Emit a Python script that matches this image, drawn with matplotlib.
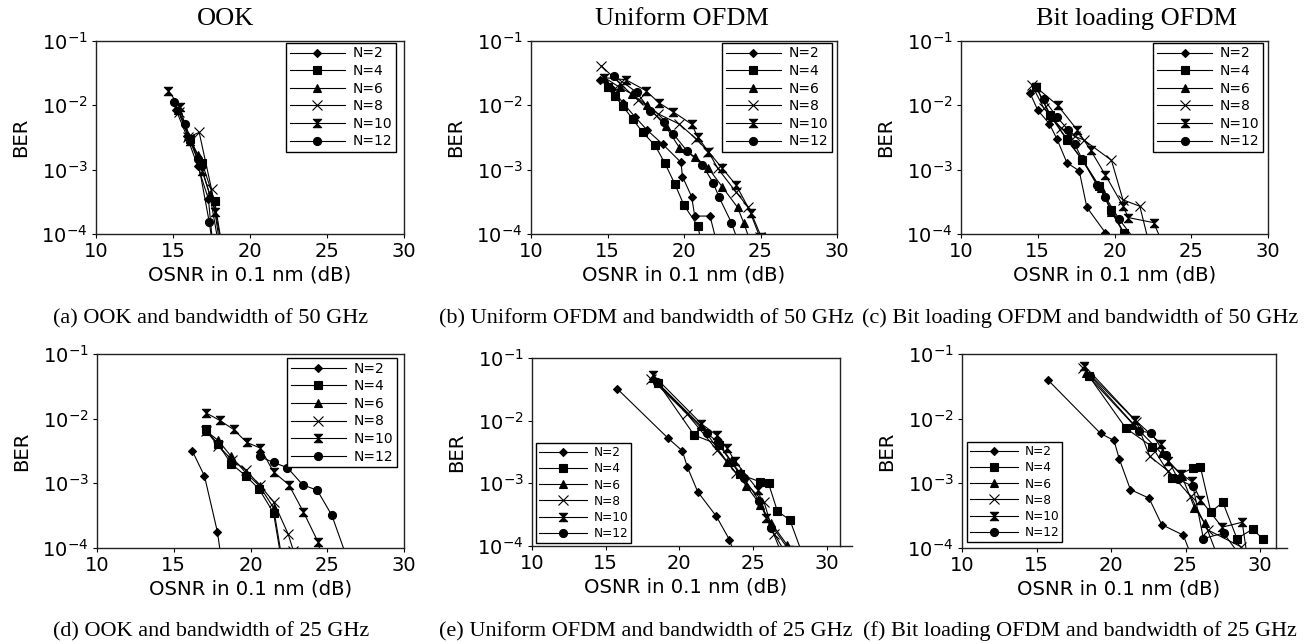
import matplotlib
matplotlib.use("Agg")
import matplotlib.pyplot as plt
from matplotlib.path import Path

# ---------------- data ----------------
LABELS = ["N=2", "N=4", "N=6", "N=8", "N=10", "N=12"]
TITLES = ["OOK", "Uniform OFDM", "Bit loading OFDM"]
CAPTIONS = ["(a) OOK and bandwidth of 50 GHz",
            "(b) Uniform OFDM and bandwidth of 50 GHz",
            "(c) Bit loading OFDM and bandwidth of 50 GHz",
            "(d) OOK and bandwidth of 25 GHz",
            "(e) Uniform OFDM and bandwidth of 25 GHz",
            "(f) Bit loading OFDM and bandwidth of 25 GHz"]
XTICKS = [10, 15, 20, 25, 30]

# (a) OOK, 50 GHz
A_X = [[15.2, 15.9, 16.6, 17.3, 17.6],
       [16.1, 16.9, 17.7, 18.2],
       [15.3, 16.0, 16.6, 17.4, 18.0],
       [15.4, 16.0, 16.7, 17.5, 18.0],
       [14.7, 15.45, 16.1, 16.9, 17.75, 18.2],
       [15.05, 15.8, 16.6, 17.35, 17.6]]
A_Y = [[8.5e-3, 3.3e-3, 1.15e-3, 3.5e-4, 6e-5],
       [3.0e-3, 1.25e-3, 3.3e-4, 6e-5],
       [8.5e-3, 3.3e-3, 1.7e-3, 4e-4, 6e-5],
       [8.0e-3, 3.2e-3, 3.8e-3, 5e-4, 8e-5],
       [1.7e-2, 9.3e-3, 2.8e-3, 9.5e-4, 2.2e-4, 6e-5],
       [1.12e-2, 5.1e-3, 1.45e-3, 1.55e-4, 6e-5]]

# (b) Uniform OFDM, 50 GHz
B_X = [[14.5, 15.3, 16.0, 16.8, 17.6, 18.6, 19.8, 19.9, 20.5, 20.7, 21.7, 22.1],
       [15.0, 15.5, 16.0, 16.65, 17.3, 18.1, 18.75, 19.4, 20.0, 20.9, 21.1],
       [14.8, 15.8, 16.6, 17.6, 18.8, 19.7, 20.7, 21.6, 22.5, 23.5, 23.9, 24.3],
       [14.6, 15.8, 17.0, 18.3, 19.7, 20.8, 21.6, 22.2, 23.4, 24.2, 24.95],
       [14.75, 16.2, 17.5, 18.35, 19.3, 20.5, 20.9, 21.6, 22.5, 23.4, 24.4, 25.05],
       [15.4, 16.9, 17.8, 18.7, 19.3, 20.2, 21.2, 21.9, 22.3, 23.1, 23.5]]
B_Y = [[2.5e-2, 1.8e-2, 1.1e-2, 6.6e-3, 4.1e-3, 2.5e-3, 1.3e-3, 7.8e-4, 3.8e-4, 1.9e-4, 1.9e-4, 8e-5],
       [1.9e-2, 1.38e-2, 9.7e-3, 6.1e-3, 3.8e-3, 2.4e-3, 1.26e-3, 6e-4, 2.8e-4, 1.33e-4, 8e-5],
       [2.7e-2, 1.9e-2, 1.5e-2, 1e-2, 4.7e-3, 2.2e-3, 1.6e-3, 1.05e-3, 5.4e-4, 2.6e-4, 1.5e-4, 8e-5],
       [4.1e-2, 2.2e-2, 1.2e-2, 7.4e-3, 5.1e-3, 3e-3, 1.9e-3, 1.05e-3, 4.5e-4, 2.6e-4, 9e-5],
       [2.7e-2, 2.5e-2, 1.7e-2, 1.1e-2, 7.9e-3, 5.1e-3, 3.2e-3, 1.9e-3, 1.05e-3, 5.8e-4, 2.1e-4, 9e-5],
       [2.9e-2, 1.6e-2, 8.3e-3, 5.5e-3, 3.6e-3, 1.95e-3, 1.18e-3, 6.3e-4, 3.7e-4, 1.5e-4, 8e-5]]

# (c) Bit loading OFDM, 50 GHz
C_X = [[14.5, 15.0, 15.75, 16.25, 16.9, 17.7, 18.2, 19.4, 19.6],
       [14.9, 15.8, 16.9, 17.9, 19.0, 19.8, 20.6, 20.8],
       [14.9, 15.9, 16.9, 17.9, 19.1, 19.8, 20.6, 20.8],
       [14.6, 15.4, 16.5, 17.4, 18.0, 19.8, 20.55, 21.65, 22.2],
       [14.9, 16.3, 17.55, 18.45, 19.4, 20.55, 20.9, 22.55, 23.05],
       [15.4, 16.25, 17.0, 17.4, 17.9, 18.85, 19.4, 20.3, 21.35]]
C_Y = [[1.55e-2, 8.4e-3, 5.2e-3, 3.0e-3, 1.28e-3, 9.6e-4, 2.6e-4, 1.05e-4, 8e-5],
       [1.9e-2, 7e-3, 3e-3, 1.4e-3, 5.5e-4, 2.4e-4, 1.05e-4, 8e-5],
       [1.94e-2, 6.5e-3, 2.9e-3, 1.45e-3, 5.1e-4, 2.2e-4, 1.03e-4, 8e-5],
       [2.1e-2, 9e-3, 4.5e-3, 3.3e-3, 2.9e-3, 1.4e-3, 3.4e-4, 2.7e-4, 8e-5],
       [1.9e-2, 1.0e-2, 4.2e-3, 2e-3, 8.3e-4, 2.75e-4, 1.8e-4, 1.5e-4, 8e-5],
       [1.24e-2, 6.6e-3, 4.1e-3, 2.5e-3, 1.45e-3, 5.8e-4, 3.8e-4, 1.7e-4, 8e-5]]

# (d) OOK, 25 GHz
D_X = [[16.2, 17.0, 17.85, 18.05],
       [17.1, 17.9, 18.75, 19.7, 20.55, 21.5, 21.95],
       [17.1, 17.9, 18.75, 19.7, 20.6, 21.5, 22.0],
       [17.1, 17.9, 18.8, 19.7, 20.6, 21.5, 22.45, 22.8],
       [17.1, 18.0, 18.9, 19.75, 20.65, 21.5, 22.5, 23.45, 24.4, 24.6],
       [20.6, 21.5, 22.4, 23.4, 24.35, 25.3, 26.2]]
D_Y = [[3.2e-3, 1.3e-3, 1.75e-4, 8e-5],
       [6.8e-3, 4e-3, 2e-3, 1.3e-3, 8.2e-4, 3.5e-4, 8e-5],
       [6.5e-3, 4.6e-3, 2.6e-3, 1.45e-3, 9e-4, 4.2e-4, 8e-5],
       [6.5e-3, 3.8e-3, 2.3e-3, 1.6e-3, 9.4e-4, 5.2e-4, 1.65e-4, 9e-5],
       [1.23e-2, 9.4e-3, 6.8e-3, 4.3e-3, 3.5e-3, 1.5e-3, 9.5e-4, 3.6e-4, 1.24e-4, 8e-5],
       [2.6e-3, 2.1e-3, 1.75e-3, 9.5e-4, 7.8e-4, 3.2e-4, 8e-5]]

# (e) Uniform OFDM, 25 GHz
E_X = [[15.8, 19.25, 20.2, 20.55, 21.25, 22.5, 23.4, 23.65],
       [18.55, 21.0, 22.7, 24.1, 25.5, 26.05, 26.65, 27.5, 28.3],
       [18.2, 21.5, 23.25, 24.55, 25.5, 26.25, 27.3, 27.5],
       [18.1, 20.5, 22.55, 23.85, 25.75, 26.4, 26.9],
       [18.2, 21.5, 22.55, 23.25, 23.75, 25.35, 25.9, 27.45],
       [18.45, 21.85, 22.65, 23.55, 24.4, 25.4, 26.2, 27.1]]
E_Y = [[3.2e-2, 5.2e-3, 3.3e-3, 1.8e-3, 7.3e-4, 3e-4, 1.26e-4, 8.5e-5],
       [4e-2, 5.9e-3, 4.1e-3, 1.4e-3, 1.05e-3, 1e-3, 3.6e-4, 2.6e-4, 8e-5],
       [4.8e-2, 8.1e-3, 2.2e-3, 9.1e-4, 4.5e-4, 2.3e-4, 1.05e-4, 8e-5],
       [4.6e-2, 1.3e-2, 3.4e-3, 1.45e-3, 5e-4, 1.55e-4, 8e-5],
       [5.4e-2, 8.9e-3, 5.8e-3, 3.6e-3, 2.3e-3, 7.8e-4, 2.8e-4, 8.5e-5],
       [4.1e-2, 6.3e-3, 4.5e-3, 2.2e-3, 1.2e-3, 5.3e-4, 1.95e-4, 8.5e-5]]

# (f) Bit loading OFDM, 25 GHz
F_X = [[15.8, 19.3, 20.2, 20.55, 21.3, 22.55, 23.4, 24.85, 25.3],
       [18.5, 21.0, 22.75, 24.1, 25.5, 26.0, 26.7, 27.5, 28.45, 29.5, 30.2],
       [18.3, 21.5, 23.4, 24.75, 25.6, 26.3, 27.1],
       [18.15, 21.7, 22.6, 23.85, 25.35, 26.5, 28.7, 29.0],
       [18.2, 21.6, 23.35, 23.8, 24.7, 25.4, 26.0, 27.45, 28.8, 29.1],
       [18.6, 21.9, 22.7, 23.7, 24.5, 25.5, 26.2, 27.55, 28.6]]
F_Y = [[3.9e-2, 5.9e-3, 4.6e-3, 2.4e-3, 8e-4, 5.9e-4, 2.3e-4, 1.58e-4, 8.5e-5],
       [4.6e-2, 7.1e-3, 3.7e-3, 1.2e-3, 1.73e-3, 1.78e-3, 3.6e-4, 5.1e-4, 1.4e-4, 1.95e-4, 1.38e-4],
       [5e-2, 8.1e-3, 2.9e-3, 1.3e-3, 4.2e-4, 2.4e-4, 8e-5],
       [6.1e-2, 9e-3, 2.6e-3, 1.55e-3, 6.3e-4, 1.9e-4, 1.05e-4, 8e-5],
       [6.6e-2, 9.6e-3, 4.1e-3, 2.2e-3, 1.4e-3, 1.07e-3, 5.6e-4, 2.1e-4, 2.5e-4, 8.5e-5],
       [4.6e-2, 6.5e-3, 6e-3, 2.7e-3, 1.15e-3, 9e-4, 1.4e-4, 1.7e-4, 8e-5]]

PANELS_X = [A_X, B_X, C_X, D_X, E_X, F_X]
PANELS_Y = [A_Y, B_Y, C_Y, D_Y, E_Y, F_Y]

# ---------------- styling ----------------
W, H = 1311, 644
HOURGLASS = Path([(-1, 1), (1, 1), (-1, -1), (1, -1), (-1, 1)],
                 [Path.MOVETO, Path.LINETO, Path.LINETO, Path.LINETO, Path.CLOSEPOLY])
MARKERS = ["D", "s", "^", "x", HOURGLASS, "o"]
MSIZES = [4.2, 6.0, 6.0, 7.0, 6.0, 5.8]

# axes boxes in pixels: left, top, right, bottom
POS = [(96, 41, 404, 234), (531, 41, 837, 234), (961, 41, 1268, 234),
       (97, 354, 404, 548), (532, 358, 840, 546), (962, 354, 1276, 548)]
XMAX = [30, 30, 30, 30, 30.9, 31.07]
LEG = [dict(loc="upper right", bbox_to_anchor=(0.974, 0.99), fontsize=10),
       dict(loc="upper right", bbox_to_anchor=(0.983, 0.99), fontsize=10),
       dict(loc="upper right", bbox_to_anchor=(0.984, 0.99), fontsize=10),
       dict(loc="upper right", bbox_to_anchor=(0.977, 0.979), fontsize=10),
       dict(loc="lower left", bbox_to_anchor=(0.012, 0.016), fontsize=8.7),
       dict(loc="lower left", bbox_to_anchor=(0.015, 0.031), fontsize=8.7)]
EXT = [None, None, None, None, 1.039, 1.035]

fig = plt.figure(figsize=(W / 100, H / 100), dpi=100)

for i in range(6):
    l, t, r, b = POS[i]
    ax = fig.add_axes([l / W, 1 - b / H, (r - l) / W, (b - t) / H])
    for k in range(6):
        ax.plot(PANELS_X[i][k], PANELS_Y[i][k], color="black", lw=0.8,
                marker=MARKERS[k], ms=MSIZES[k], mfc="black", mec="black",
                mew=0.8, label=LABELS[k])
    ax.set_yscale("log")
    ax.set_ylim(1e-4, 1e-1)
    ax.set_xlim(10, XMAX[i])
    ax.set_xticks(XTICKS)
    ax.minorticks_off()
    ax.set_yticks([1e-4, 1e-3, 1e-2, 1e-1])
    ax.tick_params(labelsize=14, length=3, width=0.8, pad=3)
    for s in ax.spines.values():
        s.set_linewidth(1.0)
        s.set_color("#222222")
    ax.set_xlabel("OSNR in 0.1 nm (dB)", fontsize=14.2, labelpad=3)
    ax.set_ylabel("BER", fontsize=14.2, labelpad=8)
    leg = ax.legend(borderaxespad=0, handlelength=4.0, handletextpad=0.55,
                    labelspacing=0.26, borderpad=0.25, fancybox=False,
                    framealpha=1, edgecolor="black", **LEG[i])
    leg.get_frame().set_linewidth(1.0)
    if EXT[i] is not None:
        ax.plot([1, EXT[i]], [0, 0], transform=ax.transAxes, color="#222222",
                lw=1.0, clip_on=False)

serif = ["Liberation Serif", "DejaVu Serif"]
TITLE_X = [226, 682, 1136]
for j in range(3):
    fig.text(TITLE_X[j] / W, 1 - 25 / H, TITLES[j], ha="center", va="baseline",
             fontsize=19, family=serif)

CAP_X = [211, 646, 1080]
CAP_Y = [323, 636]
for i in range(6):
    fig.text(CAP_X[i % 3] / W, 1 - CAP_Y[i // 3] / H, CAPTIONS[i], ha="center",
             va="baseline", fontsize=16, family=serif)

fig.savefig("out.png", dpi=100)
